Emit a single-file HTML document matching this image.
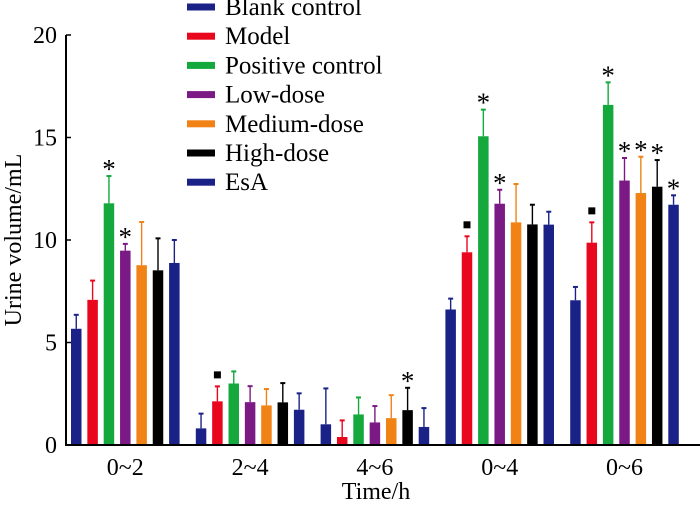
<!DOCTYPE html>
<html><head><meta charset="utf-8"><style>
body{margin:0;background:#fff}
svg text{font-family:"Liberation Serif",serif;fill:#000}
</style></head><body>
<svg id="chart" width="700" height="502" viewBox="0 0 700 502" xmlns="http://www.w3.org/2000/svg">
<g id="bars"></g>
<g id="axes"></g>
<g id="legend"></g>
</svg>
<script>
const categories = ["0~2","2~4","4~6","0~4","0~6"];
const seriesNames = ["Blank control","Model","Positive control","Low-dose","Medium-dose","High-dose","EsA"];
const seriesColors = ["#1b2287","#e8071d","#14a83d","#7b1a85","#f08216","#000000","#1b2287"];
const blank   = [5.67, 0.81, 1.01, 6.61, 7.06];
const model   = [7.08, 2.13, 0.39, 9.40, 9.87];
const positive= [11.79, 3.00, 1.49, 15.06, 16.59];
const low     = [9.48, 2.09, 1.10, 11.77, 12.90];
const medium  = [8.77, 1.93, 1.31, 10.86, 12.29];
const high    = [8.52, 2.08, 1.70, 10.76, 12.60];
const esa     = [8.88, 1.72, 0.88, 10.75, 11.72];
const blankErr   = [0.68, 0.72, 1.75, 0.53, 0.65];
const modelErr   = [0.94, 0.73, 0.81, 0.78, 0.99];
const positiveErr= [1.33, 0.59, 0.83, 1.30, 1.10];
const lowErr     = [0.33, 0.78, 0.80, 0.68, 1.10];
const mediumErr  = [2.11, 0.80, 1.12, 1.87, 1.77];
const highErr    = [1.56, 0.94, 1.09, 0.96, 1.30];
const esaErr     = [1.12, 0.80, 0.92, 0.63, 0.46];
const blankMark   = ["","","","",""];
const modelMark   = ["","s","","s","s"];
const positiveMark= ["*","","","*","*"];
const lowMark     = ["*","","","*","*"];
const mediumMark  = ["","","","","*"];
const highMark    = ["","","*","","*"];
const esaMark     = ["","","","","*"];
const yTicks = [0,5,10,15,20];

const values=[blank,model,positive,low,medium,high,esa];
const errs=[blankErr,modelErr,positiveErr,lowErr,mediumErr,highErr,esaErr];
const marks=[blankMark,modelMark,positiveMark,lowMark,mediumMark,highMark,esaMark];
const NS="http://www.w3.org/2000/svg";
const X0=66, X1=700, Y0=445, Ymax=35;
const yScale=v=>Y0-(v/20)*(Y0-Ymax);
const groupStart=71, groupStep=124.8, barStep=16.35, barW=10.5;
const xBar=(g,s)=>groupStart+g*groupStep+s*barStep;
function mk(tag,attrs,parent){const e=document.createElementNS(NS,tag);for(const k in attrs)e.setAttribute(k,attrs[k]);parent.appendChild(e);return e;}
const bars=document.getElementById('bars'), axes=document.getElementById('axes'), legend=document.getElementById('legend');
values.forEach((ser,s)=>{ser.forEach((v,g)=>{
  const x=xBar(g,s), c=seriesColors[s];
  const top=yScale(v+errs[s][g]), cx=x+barW/2;
  const eb=mk('line',{x1:cx,x2:cx,y1:top,y2:yScale(v),stroke:c,'stroke-width':1.4},bars);
  
  
  const cap=mk('line',{x1:cx-2.5,x2:cx+2.5,y1:top,y2:top,stroke:c,'stroke-width':2},bars);
  
  
  const r=mk('rect',{x:x,y:yScale(v),width:barW,height:Y0-yScale(v),fill:c},bars);
  
  
  const m=marks[s][g];
  if(m==='*'){const t=mk('text',{x:cx,y:top+2,'text-anchor':'middle','font-size':27},bars);t.textContent='*';
    
    }
  else if(m==='s'){const q=mk('rect',{x:cx-3.5,y:top-15,width:7,height:7,fill:'#000'},bars);
    
    }
});});
const ya=mk('line',{x1:X0,x2:X0,y1:Ymax,y2:Y0+1,stroke:'#000','stroke-width':2},axes);


const xa=mk('line',{x1:X0-1,x2:X1,y1:Y0,y2:Y0,stroke:'#000','stroke-width':2},axes);


yTicks.forEach(t=>{const y=yScale(t);
  const l=mk('line',{x1:X0,x2:X0+5,y1:y,y2:y,stroke:'#000','stroke-width':1.5},axes);
  
  
  const tx=mk('text',{x:X0-9,y:y+8,'text-anchor':'end','font-size':24},axes);tx.textContent=t;
  
  });
categories.forEach((c,g)=>{const cx=xBar(g,3)+barW/2;
  const tx=mk('text',{x:cx,y:475,'text-anchor':'middle','font-size':24},axes);tx.textContent=c;
  
  });
const xt=mk('text',{x:376,y:499,'text-anchor':'middle','font-size':24},axes);xt.textContent='Time/h';


const yt=mk('text',{x:0,y:0,'text-anchor':'middle','font-size':24,transform:'translate(21,240) rotate(-90)'},axes);yt.textContent='Urine volume/mL';


seriesNames.forEach((n,s)=>{const y=7+s*29.2;
  const sw=mk('rect',{x:187,y:y-3.5,width:28,height:7,fill:seriesColors[s]},legend);
  
  
  const tx=mk('text',{x:225,y:y+8,'font-size':25},legend);tx.textContent=n;
  
  });
</script>
</body></html>
